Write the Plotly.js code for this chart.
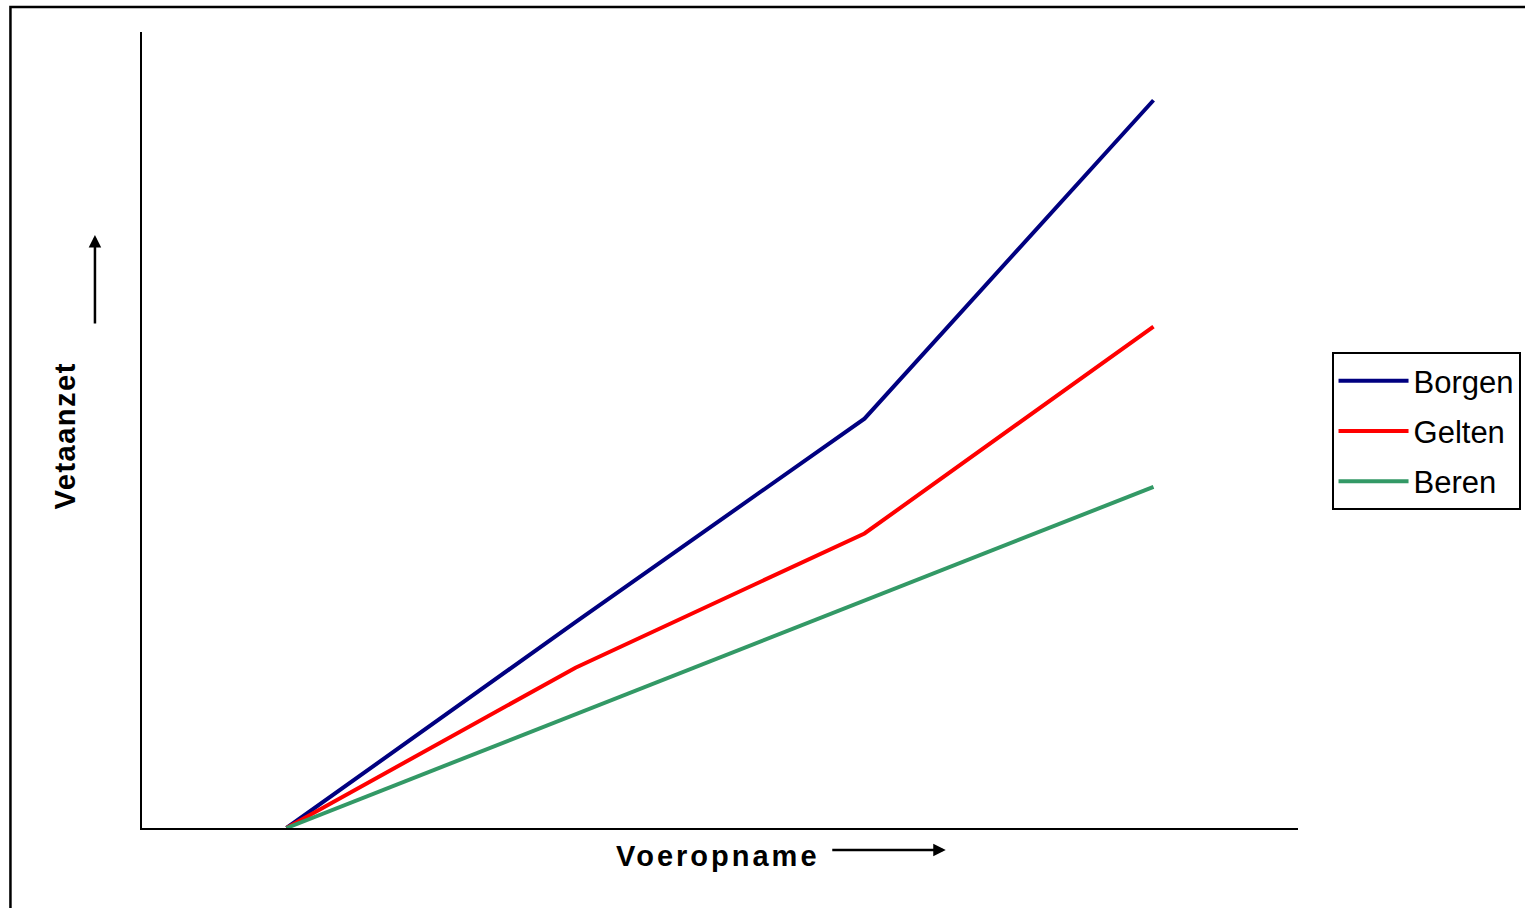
<!DOCTYPE html>
<html>
<head>
<meta charset="utf-8">
<script src="https://cdn.plot.ly/plotly-3.0.1.min.js"></script>
<style>
  html, body { margin: 0; padding: 0; background: #fff; }
  #chart { width: 1525px; height: 908px; }
</style>
</head>
<body>
<div id="chart"></div>
<script>
// Data (arbitrary units, no tick labels shown)
const steps = [0, 1, 2, 3];
const borgen = [0, 1.81, 3.60, 6.40];
const gelten = [0, 1.41, 2.59, 4.41];
const beren = [0, 1.00, 2.00, 3.00];
const seriesNames = ['Borgen', 'Gelten', 'Beren'];
const xTitle = 'Voeropname';
const yTitle = 'Vetaanzet';

const colors = ['#000080', '#FF0000', '#339966'];
const allSeries = [borgen, gelten, beren];

const traces = allSeries.map((vals, i) => ({
  type: 'scatter',
  mode: 'lines',
  x: steps,
  y: vals,
  name: seriesNames[i],
  legendgroup: 'g' + i,
  line: { color: colors[i], width: 4 },
  hoverinfo: 'skip'
}));

const font = "Arial, 'Liberation Sans', sans-serif";

const layout = {
  width: 1525,
  height: 908,
  margin: { l: 142, r: 227, t: 32, b: 80, pad: 0, autoexpand: false },
  paper_bgcolor: '#ffffff',
  plot_bgcolor: '#ffffff',
  showlegend: true,
  font: { family: font, color: '#000000' },
  xaxis: {
    range: [-0.5, 3.5],
    showgrid: false,
    zeroline: false,
    showticklabels: false,
    ticks: '',
    showline: true,
    linecolor: '#000000',
    linewidth: 2,
    fixedrange: true
  },
  yaxis: {
    range: [0, 7],
    showgrid: false,
    zeroline: false,
    showticklabels: false,
    ticks: '',
    showline: true,
    linecolor: '#000000',
    linewidth: 2,
    fixedrange: true
  },
  legend: {
    x: 1.029,
    xanchor: 'left',
    y: 0.598,
    yanchor: 'top',
    bordercolor: '#000000',
    borderwidth: 2,
    bgcolor: '#ffffff',
    font: { family: font, size: 31, color: '#000000' },
    traceorder: 'grouped',
    tracegroupgap: 7,
    itemwidth: 70
  },
  shapes: [
    {
      type: 'rect', xref: 'paper', yref: 'paper',
      x0: -0.1138, x1: 1.3, y0: -0.2, y1: 1.0315,
      line: { color: '#000000', width: 2.5 },
      fillcolor: 'rgba(0,0,0,0)',
      layer: 'below'
    }
  ],
  annotations: [
    {
      xref: 'paper', yref: 'paper',
      x: 0.4987, y: -0.0352,
      xanchor: 'center', yanchor: 'middle',
      text: '<b><span style="letter-spacing:3px">' + xTitle + '</span></b>',
      showarrow: false,
      font: { family: font, size: 29, color: '#000000' }
    },
    {
      xref: 'paper', yref: 'paper',
      x: -0.0667, y: 0.493,
      xanchor: 'center', yanchor: 'middle',
      textangle: -90,
      text: '<b><span style="letter-spacing:1.5px">' + yTitle + '</span></b>',
      showarrow: false,
      font: { family: font, size: 29, color: '#000000' }
    },
    {
      xref: 'paper', yref: 'paper',
      x: 0.6953, y: -0.0276,
      text: '',
      showarrow: true,
      arrowhead: 2,
      arrowsize: 1,
      arrowwidth: 2.5,
      arrowcolor: '#000000',
      ax: -115, ay: 0
    },
    {
      xref: 'paper', yref: 'paper',
      x: -0.0407, y: 0.745,
      text: '',
      showarrow: true,
      arrowhead: 2,
      arrowsize: 1,
      arrowwidth: 2.5,
      arrowcolor: '#000000',
      ax: 0, ay: 90
    }
  ]
};

Plotly.newPlot('chart', traces, layout, { staticPlot: true, displayModeBar: false });
</script>
</body>
</html>
